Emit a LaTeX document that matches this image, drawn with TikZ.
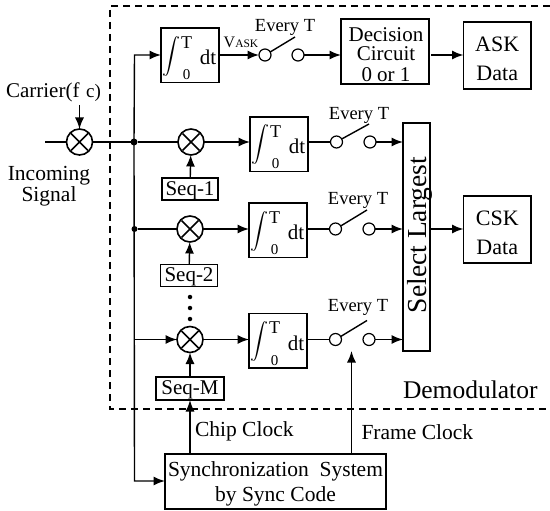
\documentclass[tikz,border=0pt]{standalone}
\usepackage{fontspec}
\setmainfont{Liberation Serif}
\usetikzlibrary{arrows.meta,calc}
\newcommand{\fs}[1]{\fontsize{#1}{#1}\selectfont}
\tikzset{
  x=1pt,y=-1pt,
  line width=1.4pt,
  conn/.style={line width=1.4pt},
  arr/.style={conn,-{Latex[length=11.5pt,width=9pt]}},
  box/.style={draw,line width=1.2pt,inner sep=0pt,outer sep=0pt,align=center,anchor=north west,text depth=0pt},
  lab/.style={inner sep=0pt,outer sep=0pt,align=center},
  mixer/.style={draw,circle,line width=1.6pt,minimum size=26pt,inner sep=0pt,outer sep=0pt,
    path picture={\draw[line width=1.5pt] ([shift={(-8.5pt,-8.5pt)}]path picture bounding box.center) -- ([shift={(8.5pt,8.5pt)}]path picture bounding box.center)
      ([shift={(-8.5pt,8.5pt)}]path picture bounding box.center) -- ([shift={(8.5pt,-8.5pt)}]path picture bounding box.center);}},
  swc/.style={draw,circle,line width=1.2pt,minimum size=12pt,inner sep=0pt,outer sep=0pt},
  jct/.style={circle,fill=black,inner sep=0pt,outer sep=0pt,minimum size=7pt},
  dotn/.style={circle,fill=black,inner sep=0pt,outer sep=0pt,minimum size=4.5pt},
}
% \intbox{name}{left}{top}: integrator box with its formula
\newcommand{\intbox}[3]{%
  \node[box,minimum width=58pt,minimum height=54.5pt] (#1) at (#2,#3) {};
  \node[lab,scale=1.8] (#1i) at ($(#1.north west)+(10,28)$) {$\displaystyle\int$};
  \node[lab,font=\fs{18}] (#1t) at ($(#1.north west)+(25.5,14.5)$) {T};
  \node[lab,font=\fs{15}] (#1z) at ($(#1.north west)+(25.5,47)$) {0};
  \node[lab,font=\fs{21}] (#1d) at ($(#1.north west)+(47,29.5)$) {dt};
}
\begin{document}
\begin{tikzpicture}
\useasboundingbox (0,0) rectangle (550,511);
% demodulator boundary
\draw[line width=1.1pt,dash pattern=on 7pt off 5pt] (550,6) -- (110,6) -- (110,409) -- (550,409);

% front end
\node[mixer] (m0) at (79.5,142) {};
\coordinate (in) at (45,142);
\node[jct] (j1) at (134,142) {};
\node[lab,font=\fs{21}] (carrier) at (53.5,92) {Carrier(f\,\fs{19}\,c)};
\coordinate (cs) at (79.5,105);
\node[lab,font=\fs{21.5}] (incoming) at (49,186) {Incoming\\Signal};
\draw[conn] (in) -- (m0);
\draw[conn] (m0) -- (j1);
\draw[arr] (cs) -- (m0);

% ASK branch
\intbox{b0}{161}{28}
\node[swc] (s0a) at (265,55) {};
\node[swc] (s0b) at (298,55) {};
\node[box,minimum width=88pt,minimum height=65pt] (dec) at (341,19) {};
\node[lab,font=\fs{21}] (dect) at ($(dec.center)+(1,3)$) {Decision\\[-2pt]Circuit\\0 or 1};
\node[box,minimum width=67.5pt,minimum height=67pt] (ask) at (463.5,22) {};
\node[lab,font=\fs{22}] (askt) at ($(ask.center)+(0,3)$) {ASK\\[7pt]Data};
\node[lab,font=\fs{16}] (vask) at (241,42.5) {V\fs{11.5}ASK};
\node[lab,font=\fs{18.5}] (ev0) at (285,27) {Every T};
\coordinate (bl0) at (295,37);
\coordinate (busTop) at (134.5,55);
\draw[arr] (j1.center) -- (busTop) -- (b0.west |- busTop);
\draw[arr] (b0.east |- s0a) -- (s0a);
\draw[arr] (s0b) -- (dec.west |- s0b);
\draw[conn] (s0a.30) -- (bl0);
\draw[arr] ($(dec.east |- s0b)+(2,0)$) -- (ask.west |- s0b);

% Select largest
\node[box,minimum width=27pt,minimum height=228pt] (sel) at (403,123) {};
\node[lab,rotate=90,font=\fs{27.5}] (selt) at (419.5,235) {Select Largest};
\node[box,minimum width=67.5pt,minimum height=67pt] (csk) at (463.5,196) {};
\node[lab,font=\fs{22}] (cskt) at ($(csk.center)+(0,3)$) {CSK\\[7pt]Data};

% CSK branch 1
\node[mixer] (m1) at (191,142) {};
\intbox{b1}{250}{117}
\node[box,minimum width=56pt,minimum height=22pt] (q1) at (162,178) {};
\node[lab,font=\fs{21}] at ($(q1.center)+(0,1.5)$) {Seq-1};
\node[swc] (s1a) at (336.5,142) {};
\node[swc] (s1b) at (370,142) {};
\coordinate (bl1) at (369,124);
\node[lab,font=\fs{18.5}] (ev1) at (359,115) {Every T};
\draw[conn] (j1) -- (m1);
\draw[arr] (m1) -- (b1.west |- m1);
\draw[arr] (q1) -- (m1);
\draw[conn] (b1.east |- s1a) -- (s1a);
\draw[conn] (s1a.30) -- (bl1);
\draw[arr] (s1b) -- (sel.west |- s1b);

% CSK branch 2
\node[mixer] (m2) at (190,229) {};
\intbox{b2}{249}{203}
\node[box,minimum width=57pt,minimum height=22pt] (q2) at (160.5,264.5) {};
\node[lab,font=\fs{21}] at ($(q2.center)+(0,1.5)$) {Seq-2};
\node[jct,minimum size=6pt] (j2) at (134.5,229) {};
\node[swc] (s2a) at (335.5,229) {};
\node[swc] (s2b) at (369,229) {};
\coordinate (bl2) at (367,210);
\node[lab,font=\fs{18.5}] (ev2) at (358,200.5) {Every T};
\draw[conn] (j2) -- (m2);
\draw[arr] (m2) -- (b2.west |- m2);
\draw[arr] (q2) -- (m2);
\draw[conn] (b2.east |- s2a) -- (s2a);
\draw[conn] (s2a.30) -- (bl2);
\draw[arr] (s2b) -- (sel.west |- s2b);
\draw[arr] (sel.east |- s2b) -- (csk.west |- s2b);

% dots
\node[dotn] (d1) at (190,297) {};
\node[dotn] (d2) at (190,308) {};
\node[dotn] (d3) at (190,319) {};

% CSK branch M
\node[mixer] (m3) at (190,339.5) {};
\intbox{b3}{249}{313.5}
\node[box,minimum width=68pt,minimum height=23pt] (q3) at (156,377) {};
\node[lab,font=\fs{21}] at ($(q3.center)+(0,1.5)$) {Seq-M};
\coordinate (r3) at (134.5,339.5);
\node[swc] (s3a) at (335.5,339.5) {};
\node[swc] (s3b) at (369,339.5) {};
\coordinate (bl3) at (367,320.5);
\node[lab,font=\fs{18.5}] (ev3) at (358,307) {Every T};
\draw[arr] (r3) -- (m3);
\draw[arr] (m3) -- (b3.west |- m3);
\draw[arr] (q3) -- (m3);
\draw[conn] (b3.east |- s3a) -- (s3a);
\draw[conn] (s3a.30) -- (bl3);
\draw[arr] (s3b) -- (sel.west |- s3b);

% synchronization
\node[box,minimum width=221pt,minimum height=55pt] (sync) at (165,454) {};
\node[lab,font=\fs{21.5}] (synct) at ($(sync.center)+(0,2.5)$) {Synchronization\ \ System\\[4pt]by Sync Code};
\coordinate (busB) at (134.5,481);
\draw[arr] (j1.center) -- (busB) -- (sync.west |- busB);
\draw[arr] (sync.north -| m3) -- (q3.south);
\coordinate (fr) at (351.5,351);
\draw[arr] (sync.north -| fr) -- (fr);
\node[lab,anchor=west,font=\fs{21.5}] (chip) at (195,431.5) {Chip Clock};
\node[lab,anchor=west,font=\fs{21.5}] (frame) at (361.5,432) {Frame Clock};
\node[lab,anchor=west,font=\fs{25.5}] (demod) at (403,390) {Demodulator};
\end{tikzpicture}
\end{document}
